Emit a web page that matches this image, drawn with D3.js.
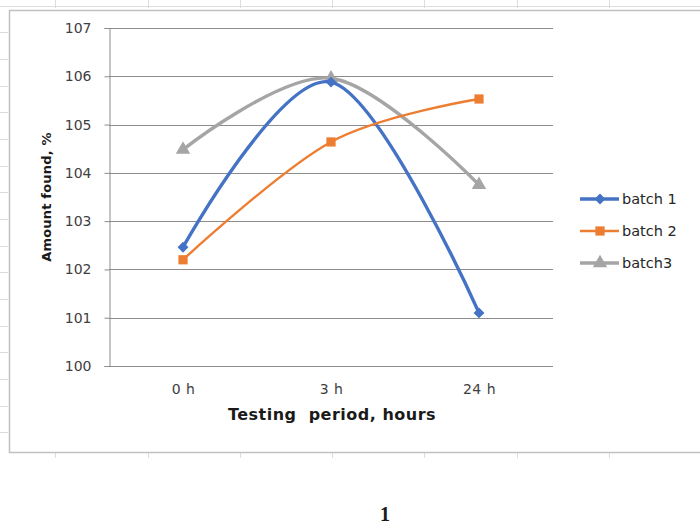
<!DOCTYPE html>
<html>
<head>
<meta charset="utf-8">
<script src="https://cdn.jsdelivr.net/npm/d3@7"></script>
<style>
  html, body { margin: 0; padding: 0; background: #fff; }
  svg { display: block; }
</style>
</head>
<body>
<svg id="chart" width="700" height="525"></svg>
<script>
// Testing periods along the x axis
const periods = ["0 h", "3 h", "24 h"];
// Amount found (%) for each batch at each testing period
const batch1 = [102.46, 105.88, 101.10];
const batch2 = [102.20, 104.64, 105.53];
const batch3 = [104.48, 105.96, 103.75];
const seriesNames = ["batch 1", "batch 2", "batch3"];
// Y axis tick values
const yTicks = [100, 101, 102, 103, 104, 105, 106, 107];

const seriesValues = [batch1, batch2, batch3];
const colors = ["#4472C4", "#ED7D31", "#A5A5A5"];
const widths = [3.4, 2.4, 3.4];
const symbols = [d3.symbolDiamond2, d3.symbolSquare, d3.symbolTriangle];
const symbolSizes = [75, 85, 90];

const svg = d3.select("#chart");

// Worksheet backdrop behind the chart object
const sheet = svg.append("g").attr("stroke", "#dcdcdc").attr("stroke-width", 1);
sheet.append("line").attr("x1", 0).attr("x2", 700).attr("y1", 6.5).attr("y2", 6.5);
[55, 148, 240, 332, 424, 517, 609].forEach(x => {
  sheet.append("line").attr("x1", x + 0.5).attr("x2", x + 0.5).attr("y1", 0).attr("y2", 8);
  sheet.append("line").attr("x1", x + 0.5).attr("x2", x + 0.5).attr("y1", 452).attr("y2", 458);
});
[32, 59, 86, 112, 139, 166, 192, 219, 246, 272, 299, 326, 352, 379, 406, 432].forEach(y => {
  sheet.append("line").attr("x1", 0).attr("x2", 8).attr("y1", y + 0.5).attr("y2", y + 0.5);
});

// Chart object frame
svg.append("rect")
  .attr("x", 9.5).attr("y", 10.5)
  .attr("width", 700).attr("height", 442)
  .attr("fill", "#fff")
  .attr("stroke", "#c0c0c0").attr("stroke-width", 1.5);

const plotLeft = 109, plotRight = 553, plotTop = 28, plotBottom = 366;

const x = d3.scalePoint().domain(periods).range([plotLeft, plotRight]).padding(0.5);
const y = d3.scaleLinear().domain([100, 107]).range([plotBottom, plotTop]);

// Horizontal gridlines
svg.append("g")
  .selectAll("line")
  .data(yTicks)
  .join("line")
  .attr("x1", plotLeft).attr("x2", plotRight)
  .attr("y1", d => Math.round(y(d)) + 0.5).attr("y2", d => Math.round(y(d)) + 0.5)
  .attr("stroke", "#8c8c8c").attr("stroke-width", 1);

// Y axis
const yAxis = svg.append("g")
  .attr("transform", `translate(${plotLeft + 0.5},0)`)
  .call(d3.axisLeft(y).tickValues(yTicks).tickSize(5).tickPadding(13).tickFormat(d3.format("d")));
yAxis.select(".domain").attr("stroke", "#8c8c8c");
yAxis.selectAll(".tick line").attr("stroke", "#8c8c8c");
yAxis.selectAll(".tick text")
  .attr("fill", "#404040")
  .style("font-family", "'DejaVu Sans', Verdana, sans-serif")
  .style("font-size", "14px");

// X axis labels
const xAxis = svg.append("g")
  .attr("transform", `translate(0,${plotBottom})`)
  .call(d3.axisBottom(x).tickSize(0).tickPadding(18));
xAxis.select(".domain").remove();
xAxis.selectAll(".tick text")
  .attr("fill", "#404040")
  .style("font-family", "'DejaVu Sans', Verdana, sans-serif")
  .style("font-size", "14px")
  .style("letter-spacing", "0.5px");

// Axis titles
svg.append("text")
  .attr("x", 332).attr("y", 420)
  .attr("text-anchor", "middle")
  .style("font-family", "'DejaVu Sans', Verdana, sans-serif")
  .style("font-weight", "bold")
  .style("font-size", "16px")
  .style("letter-spacing", "0.5px")
  .style("white-space", "pre")
  .attr("fill", "#1a1a1a")
  .text("Testing  period, hours");

svg.append("text")
  .attr("transform", "translate(51,197) rotate(-90)")
  .attr("text-anchor", "middle")
  .style("font-family", "'DejaVu Sans', Verdana, sans-serif")
  .style("font-weight", "bold")
  .style("font-size", "13px")
  .style("letter-spacing", "0.2px")
  .attr("fill", "#1a1a1a")
  .text("Amount found, %");

// Smoothed series lines with markers
const line = d3.line()
  .x((d, i) => x(periods[i]))
  .y(d => y(d))
  .curve(d3.curveCatmullRom.alpha(0));

const draw = [2, 0, 1];
draw.forEach(k => {
  const g = svg.append("g");
  g.append("path")
    .datum(seriesValues[k])
    .attr("d", line)
    .attr("fill", "none")
    .attr("stroke", colors[k])
    .attr("stroke-width", widths[k])
    .attr("stroke-linecap", "round");
  g.selectAll("path.m")
    .data(seriesValues[k])
    .join("path")
    .attr("class", "m")
    .attr("transform", (d, i) => `translate(${x(periods[i])},${y(d)})`)
    .attr("d", d3.symbol().type(symbols[k]).size(symbolSizes[k]))
    .attr("fill", colors[k]);
});

// Legend
const legend = svg.append("g");
seriesNames.forEach((name, k) => {
  const ly = 199 + k * 32;
  legend.append("line")
    .attr("x1", 580).attr("x2", 619)
    .attr("y1", ly).attr("y2", ly)
    .attr("stroke", colors[k]).attr("stroke-width", widths[k]);
  legend.append("path")
    .attr("transform", `translate(600,${ly})`)
    .attr("d", d3.symbol().type(symbols[k]).size(symbolSizes[k]))
    .attr("fill", colors[k]);
  legend.append("text")
    .attr("x", 622).attr("y", ly + 5)
    .style("font-family", "'DejaVu Sans', Verdana, sans-serif")
    .style("font-size", "14.5px")
    .attr("fill", "#262626")
    .text(name);
});

// Figure number under the chart
svg.append("text")
  .attr("x", 385).attr("y", 521)
  .attr("text-anchor", "middle")
  .style("font-family", "'Liberation Serif', 'DejaVu Serif', serif")
  .style("font-weight", "bold")
  .style("font-size", "20px")
  .attr("fill", "#1a1a1a")
  .text("1");
</script>
</body>
</html>
